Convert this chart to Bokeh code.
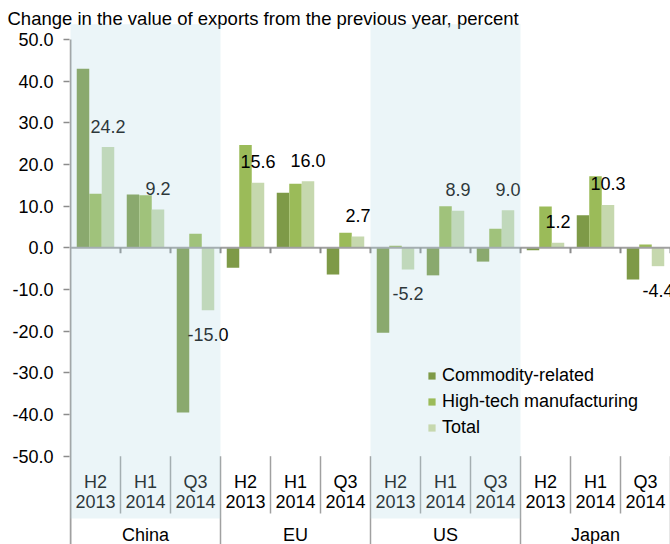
from bokeh.plotting import figure
from bokeh.models import (ColumnDataSource, Range1d, FixedTicker, PrintfTickFormatter,
                          Legend, LegendItem)
from bokeh.transform import dodge
from bokeh.core.properties import value
from bokeh.embed import file_html
from bokeh.resources import INLINE

# ---------------- data ----------------
regions = ["China", "EU", "US", "Japan"]
shaded_regions = ["China", "US"]
periods = ["H2", "H1", "Q3"]
years = ["2013", "2014", "2014"]
commodity = [43.0, 12.8, -39.5, -4.8, 13.2, -6.4, -20.4, -6.6, -3.3, -0.6, 7.8, -7.6]
hightech = [13.0, 12.6, 3.4, 24.7, 15.4, 3.6, 0.5, 10.0, 4.6, 9.9, 17.2, 0.8]
total = [24.2, 9.2, -15.0, 15.6, 16.0, 2.7, -5.2, 8.9, 9.0, 1.2, 10.3, -4.4]
y_ticks = [-50, -40, -30, -20, -10, 0, 10, 20, 30, 40, 50]
series_names = ["Commodity-related", "High-tech manufacturing", "Total"]
title_text = "Change in the value of exports from the previous year, percent"

# ---------------- style ----------------
FONT = "Liberation Sans"
C_COM = "#7e9a47"
C_HT = "#9bbb59"
C_TOT = "#c6d8ae"
GREY = "#a0a0a0"
Y_TOP = 52.64
Y_BOT = -71.19

n_per = len(periods)
n = len(regions) * n_per
centers = [i + 0.5 for i in range(n)]
sub_period = [periods[i % n_per] for i in range(n)]
sub_year = [years[i % n_per] for i in range(n)]

src = ColumnDataSource(dict(
    x=centers, com=commodity, ht=hightech, tot=total,
    per=sub_period, yr=sub_year,
    lbl=["%.1f" % v for v in total],
    off=[-21 if v >= 0 else 24 for v in total],
))

p = figure(width=670, height=544, x_range=Range1d(-0.02, n), y_range=Range1d(Y_BOT, Y_TOP),
           output_backend="svg", toolbar_location=None, x_axis_location=None,
           min_border_left=69, min_border_right=0, min_border_top=28, min_border_bottom=0,
           title=title_text)
p.xgrid.visible = False
p.ygrid.visible = False
p.outline_line_color = None
p.background_fill_color = "white"

p.title.text_font = FONT
p.title.text_font_size = "18.5px"
p.title.text_font_style = "normal"
p.title.text_color = "#000000"
p.title.align = "left"
p.title.standoff = 0
p.title.offset = -62

yax = p.yaxis[0]
yax.ticker = FixedTicker(ticks=y_ticks)
yax.formatter = PrintfTickFormatter(format="%.1f")
yax.major_label_text_font = FONT
yax.major_label_text_font_size = "18px"
yax.major_label_text_color = "#000000"
yax.axis_line_color = None
yax.major_tick_line_color = "#8c8c8c"
yax.major_tick_line_width = 1.5
yax.major_tick_out = 6
yax.major_tick_in = 0
yax.minor_tick_line_color = None
yax.major_label_standoff = 10

# bars
w = 0.25
r1 = p.vbar(x=dodge("x", -w, range=p.x_range), top="com", bottom=0, width=w, source=src,
            fill_color=C_COM, line_color=None)
r2 = p.vbar(x=dodge("x", 0, range=p.x_range), top="ht", bottom=0, width=w, source=src,
            fill_color=C_HT, line_color=None)
r3 = p.vbar(x=dodge("x", w, range=p.x_range), top="tot", bottom=0, width=w, source=src,
            fill_color=C_TOT, line_color=None)

# zero line and its ticks
p.segment(x0=[0], x1=[n], y0=[0], y1=[0], line_color=GREY, line_width=2)
inner_b = [i for i in range(1, n + 1)]
p.segment(x0=inner_b, x1=inner_b, y0=[0] * len(inner_b), y1=[-1.3] * len(inner_b),
          line_color="#8c8c8c", line_width=2)

# y axis line (from 50 down to the bottom)
p.segment(x0=[0], x1=[0], y0=[y_ticks[-1]], y1=[Y_BOT], line_color=GREY, line_width=2)

# category separators below the plot area
sub_b = [i for i in range(1, n) if i % n_per != 0]
grp_b = [i for i in range(n_per, n + 1, n_per)]
p.segment(x0=sub_b, x1=sub_b, y0=[y_ticks[0]] * len(sub_b), y1=[-63.75] * len(sub_b),
          line_color=GREY, line_width=1.5)
p.segment(x0=grp_b, x1=grp_b, y0=[y_ticks[0]] * len(grp_b), y1=[Y_BOT] * len(grp_b),
          line_color=GREY, line_width=1.5)

# category labels
p.text(x="x", y=-56.1, text="per", source=src, text_font=value(FONT), text_font_size="18px",
       text_align="center", text_baseline="middle", text_color="#000000")
p.text(x="x", y=-60.9, text="yr", source=src, text_font=value(FONT), text_font_size="18px",
       text_align="center", text_baseline="middle", text_color="#000000")
gsrc = ColumnDataSource(dict(x=[n_per * i + n_per / 2 for i in range(len(regions))], t=regions))
p.text(x="x", y=-69.0, text="t", source=gsrc, text_font=value(FONT), text_font_size="18px",
       text_align="center", text_baseline="middle", text_color="#000000")

# data labels for Total
p.text(x=dodge("x", w, range=p.x_range), y="tot", text="lbl", y_offset="off", source=src,
       text_font=value(FONT), text_font_size="18px", text_align="center",
       text_baseline="middle", text_color="#000000")

# legend
legend = Legend(items=[LegendItem(label=series_names[0], renderers=[r1]),
                       LegendItem(label=series_names[1], renderers=[r2]),
                       LegendItem(label=series_names[2], renderers=[r3])],
                location=(358, 106))
legend.background_fill_alpha = 0
legend.border_line_color = None
legend.label_text_font = FONT
legend.label_text_font_size = "18px"
legend.label_text_color = "#000000"
legend.glyph_width = 9
legend.glyph_height = 9
legend.label_standoff = 6
legend.spacing = 5
legend.padding = 0
legend.margin = 0
p.add_layout(legend)

# shaded bands (drawn on top, semi-transparent)
band_left = [n_per * regions.index(r) for r in shaded_regions]
band_right = [b + n_per for b in band_left]
p.quad(left=band_left, right=band_right, bottom=-64.95, top=Y_TOP + 1,
       fill_color="#afd7e3", fill_alpha=0.25, line_color=None, level="overlay")

open("out.html", "w").write(file_html(p, INLINE))
